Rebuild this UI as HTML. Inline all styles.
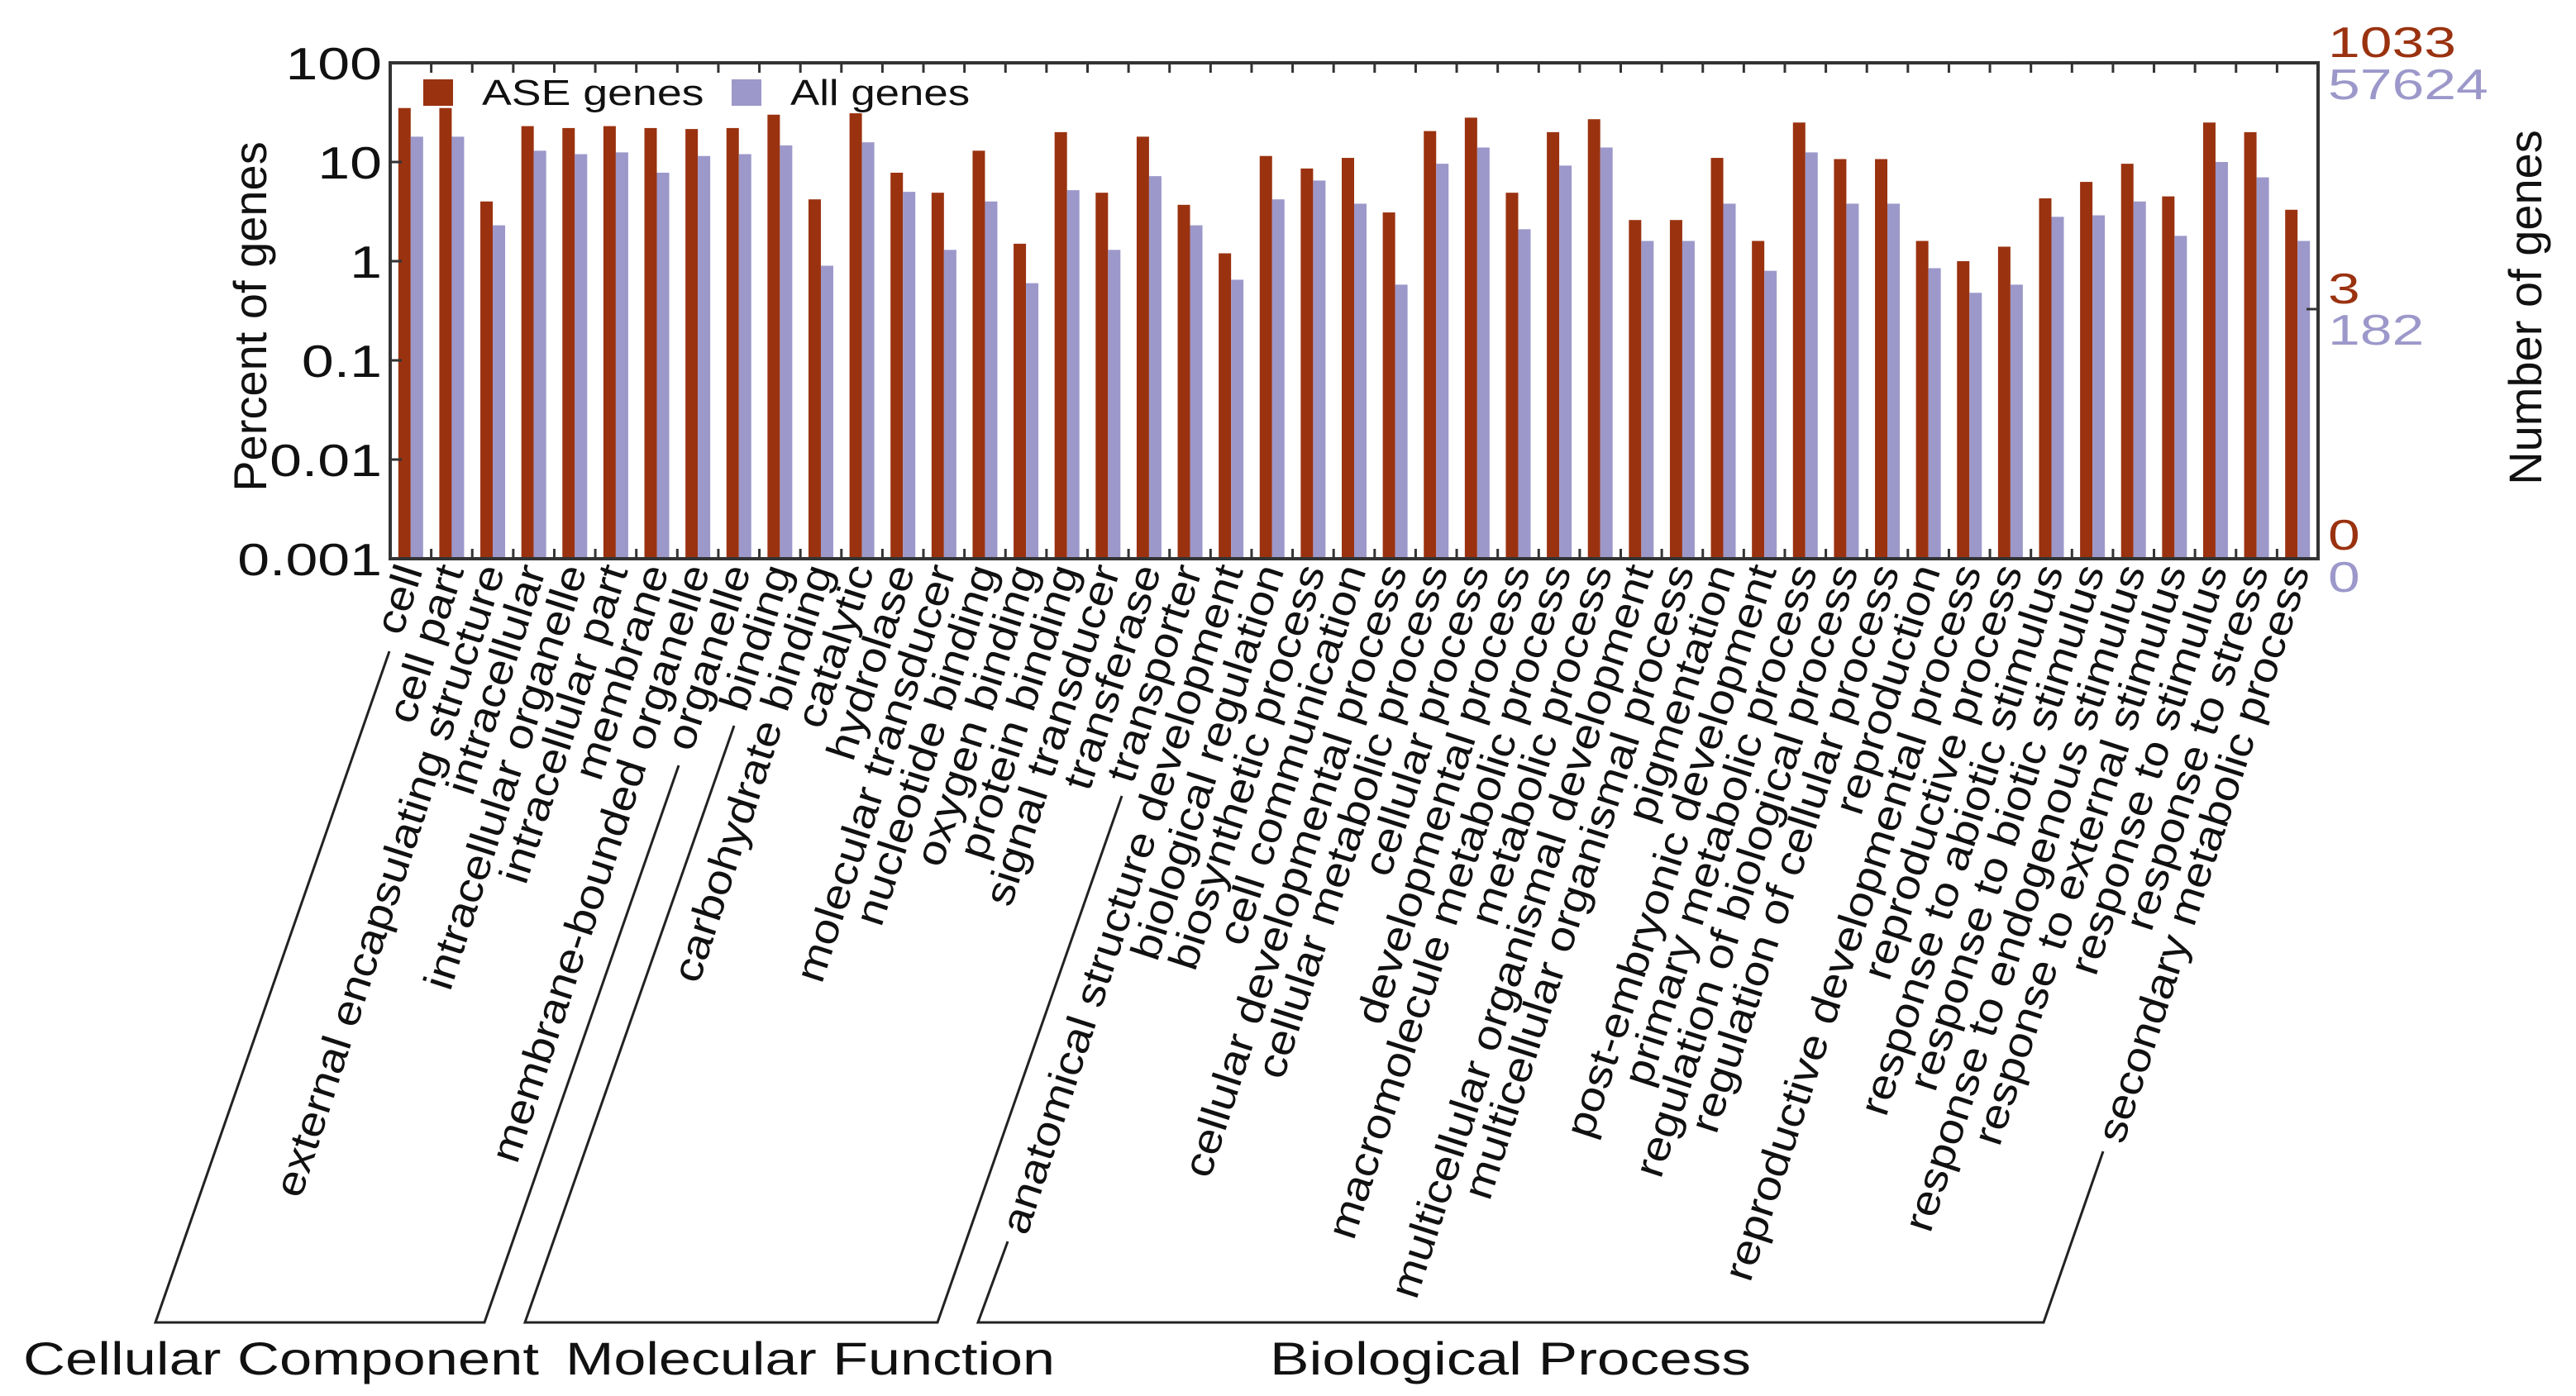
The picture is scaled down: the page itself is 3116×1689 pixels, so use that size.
<!DOCTYPE html>
<html><head><meta charset="utf-8"><style>
html,body{margin:0;padding:0;background:#fff;}
svg{display:block;font-family:"Liberation Sans",Arial,sans-serif;}
</style></head><body>
<svg id="chart" width="3116" height="1689" viewBox="0 0 3116 1689" xmlns="http://www.w3.org/2000/svg">
<g id="bars"></g>
<g id="frame"></g>
<g id="labels"></g>
<g id="axes"></g>
</svg>
<script>
const categories = ["cell","cell part","external encapsulating structure","intracellular","intracellular organelle","intracellular part","membrane","membrane-bounded organelle","organelle",
"binding","carbohydrate binding","catalytic","hydrolase","molecular transducer","nucleotide binding","oxygen binding","protein binding","signal transducer","transferase","transporter",
"anatomical structure development","biological regulation","biosynthetic process","cell communication","cellular developmental process","cellular metabolic process","cellular process","developmental process","macromolecule metabolic process","metabolic process","multicellular organismal development","multicellular organismal process","pigmentation","post-embryonic development","primary metabolic process","regulation of biological process","regulation of cellular process","reproduction","reproductive developmental process","reproductive process","response to abiotic stimulus","response to biotic stimulus","response to endogenous stimulus","response to external stimulus","response to stimulus","response to stress","secondary metabolic process"];
const aseValues = [35,35,4,23,22,23,22,21.5,22,30,4.2,31,7.8,4.9,13,1.5,20,4.9,18,3.7,1.2,11.5,8.6,11,3.1,20.5,28,4.9,20,27,2.6,2.6,11,1.6,25,10.7,10.7,1.6,1.0,1.4,4.3,6.3,9.6,4.5,25,20,3.3];
const allValues = [18,18,2.3,13,12,12.5,7.8,11.5,12,14.7,0.9,15.8,5,1.3,4,0.6,5.2,1.3,7.2,2.3,0.65,4.2,6.5,3.8,0.58,9.6,14,2.1,9.2,14,1.6,1.6,3.8,0.8,12.5,3.8,3.8,0.85,0.48,0.58,2.8,2.9,4,1.8,10,7,1.6];
const yTicks = [100,10,1,0.1,0.01,0.001];
const yTickLabels = ["100","10","1","0.1","0.01","0.001"];
const groups = [
 {name:"Cellular Component", tx:28, tw:624, pts:[[471,788],[188,1600],[586,1600],[821,926]]},
 {name:"Molecular Function", tx:684, tw:592, pts:[[888,878],[635,1600],[1134,1600],[1357,963]]},
 {name:"Biological Process", tx:1536, tw:582, pts:[[1219,1502],[1183,1600],[2472,1600],[2544,1393]]}
];

const NS="http://www.w3.org/2000/svg";
const L=472,R=2804,T=76,B=676;
const n=categories.length, step=(R-L)/n;
const xC=i=>L+step*(i+0.5);
const yS=v=>B-(Math.log10(v)+3)/5*(B-T);
const RED="#9a3210", BLUE="#9c98ca";
function mk(tag,attrs,parent,text){const e=document.createElementNS(NS,tag);for(const k in attrs)e.setAttribute(k,attrs[k]);if(text!==undefined)e.textContent=text;parent.appendChild(e);return e;}
const gb=document.getElementById('bars'), gf=document.getElementById('frame'), gl=document.getElementById('labels'), ga=document.getElementById('axes');
const bw=15;
categories.forEach((c,i)=>{
  const cx=xC(i);
  let r=mk('rect',{x:cx-bw,y:yS(aseValues[i]),width:bw,height:B-yS(aseValues[i]),fill:RED},gb);
  
  
  let b=mk('rect',{x:cx,y:yS(allValues[i]),width:bw,height:B-yS(allValues[i]),fill:BLUE},gb);
  
  
  let t=mk('text',{x:0,y:0,'text-anchor':'end','font-size':50,fill:'#111',transform:`translate(${cx+15},${B+14}) rotate(-72) scale(1.13,1)`},gl,c);
  
  
});
let fr=mk('rect',{x:L,y:T,width:R-L,height:B-T,fill:'none',stroke:'#333',"stroke-width":4},gf);


for(let k=1;k<n;k++){const x=L+step*k;
  mk('line',{x1:x,y1:T,x2:x,y2:T+12,stroke:'#333','stroke-width':3},gf);
  mk('line',{x1:x,y1:B,x2:x,y2:B-12,stroke:'#333','stroke-width':3},gf);}
yTicks.forEach((v,i)=>{const y=yS(v);
  mk('line',{x1:L,y1:y,x2:L+14,y2:y,stroke:'#333','stroke-width':3},ga);
  let t=mk('text',{x:0,y:0,'text-anchor':'end','font-size':55,fill:'#111',transform:`translate(${L-10},${y+20}) scale(1.27,1)`},ga,yTickLabels[i]);
  
  
});
let yt=mk('text',{x:0,y:0,'text-anchor':'middle','font-size':56,fill:'#111',transform:'translate(322,383) rotate(-90)'},ga,'Percent of genes');


mk('line',{x1:R-14,y1:374,x2:R,y2:374,stroke:'#333','stroke-width':3},ga);
const rl=[["1033",69,RED],["57624",120,BLUE],["3",367,RED],["182",417,BLUE],["0",665,RED],["0",716,BLUE]];
rl.forEach(a=>{let t=mk('text',{x:0,y:0,'font-size':52,fill:a[2],transform:`translate(2816,${a[1]}) scale(1.34,1)`},ga,a[0]);
  
  });
let rt=mk('text',{x:0,y:0,'text-anchor':'middle','font-size':56,fill:'#111',transform:'translate(3074,372) rotate(-90)'},ga,'Number of genes');


let lg=mk('g',{},ga);


mk('rect',{x:512,y:96,width:36,height:32,fill:RED},lg);
mk('text',{x:0,y:0,'font-size':44,fill:'#111',transform:'translate(583,127) scale(1.22,1)'},lg,'ASE genes');
mk('rect',{x:885,y:96,width:36,height:32,fill:BLUE},lg);
mk('text',{x:0,y:0,'font-size':44,fill:'#111',transform:'translate(956,127) scale(1.2,1)'},lg,'All genes');
groups.forEach(g=>{
  let p=mk('polyline',{points:g.pts.map(q=>q.join(',')).join(' '),fill:'none',stroke:'#222','stroke-width':3},ga);
  
  
  let t=mk('text',{x:g.tx,y:1663,'font-size':56,fill:'#111',textLength:g.tw,lengthAdjust:'spacingAndGlyphs'},ga,g.name);
  
  
});
</script>
</body></html>
